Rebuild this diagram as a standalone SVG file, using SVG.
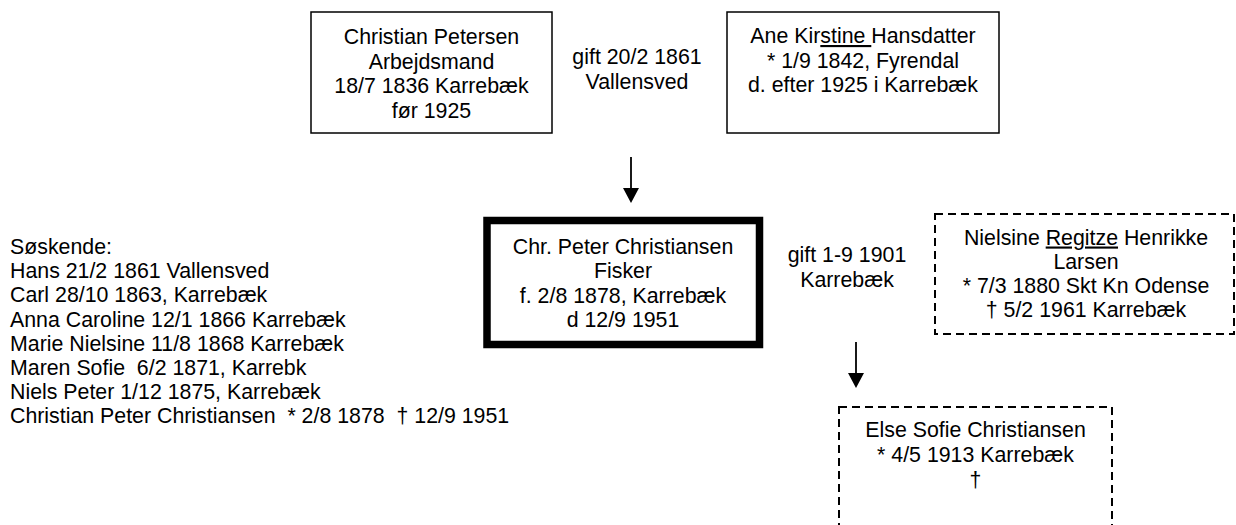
<svg xmlns="http://www.w3.org/2000/svg" width="1236" height="525" viewBox="0 0 1236 525">
<style>
text{font-family:"Liberation Sans",Arial,sans-serif;font-size:21.33px;fill:#000}
.c{text-anchor:middle}
.pre{white-space:pre}
.box{fill:#fff;stroke:#000;stroke-width:1.5}
.thick{fill:#fff;stroke:#000;stroke-width:7.5}
.dash{fill:#fff;stroke:#000;stroke-width:2;stroke-dasharray:8 5}
.ln{stroke:#000;stroke-width:1.8;fill:none}
.head{fill:#000}
</style>
<rect x="0" y="0" width="1236" height="525" fill="#fff"/>
<g id="father">
<rect class="box" x="311" y="12" width="241" height="121"/>
<text class="c" x="431.5" y="44">Christian Petersen</text>
<text class="c" x="431.5" y="68.5">Arbejdsmand</text>
<text class="c" x="431.5" y="93">18/7 1836 Karrebæk</text>
<text class="c" x="431.5" y="117.5">før 1925</text>
</g>
<g id="marriage1">
<text class="c" x="637" y="64">gift 20/2 1861</text>
<text class="c" x="637" y="88.5">Vallensved</text>
</g>
<g id="mother">
<rect class="box" x="727" y="12" width="272" height="121"/>
<text class="c" x="863" y="43">Ane Kir<tspan text-decoration="underline">stine </tspan>Hansdatter</text>
<text class="c" x="863" y="67.5">* 1/9 1842, Fyrendal</text>
<text class="c" x="863" y="92">d. efter 1925 i Karrebæk</text>
</g>
<g id="siblings">
<text x="10" y="254">Søskende:</text>
<text x="10" y="278.2">Hans 21/2 1861 Vallensved</text>
<text x="10" y="302.3">Carl 28/10 1863, Karrebæk</text>
<text x="10" y="326.5">Anna Caroline 12/1 1866 Karrebæk</text>
<text x="10" y="350.6">Marie Nielsine 11/8 1868 Karrebæk</text>
<text class="pre" xml:space="preserve" x="10" y="374.8">Maren Sofie  6/2 1871, Karrebk</text>
<text x="10" y="398.9">Niels Peter 1/12 1875, Karrebæk</text>
<text class="pre" xml:space="preserve" x="10" y="423">Christian Peter Christiansen  * 2/8 1878  † 12/9 1951</text>
</g>
<g id="subject">
<rect class="thick" x="487" y="220.5" width="272.5" height="124"/>
<text class="c" x="623" y="253.5">Chr. Peter Christiansen</text>
<text class="c" x="623" y="278">Fisker</text>
<text class="c" x="623" y="302.5">f. 2/8 1878, Karrebæk</text>
<text class="c" x="623" y="327">d 12/9 1951</text>
</g>
<g id="marriage2">
<text class="c" x="847" y="262">gift 1-9 1901</text>
<text class="c" x="847" y="286.5">Karrebæk</text>
</g>
<g id="spouse">
<rect class="dash" x="935" y="214" width="299" height="120"/>
<text class="c" x="1086" y="244.5">Nielsine <tspan text-decoration="underline">Regitze</tspan> Henrikke</text>
<text class="c" x="1086" y="268.5">Larsen</text>
<text class="c" x="1086" y="292.5">* 7/3 1880 Skt Kn Odense</text>
<text class="c" x="1086" y="316.5">† 5/2 1961 Karrebæk</text>
</g>
<g id="child">
<rect class="dash" x="839" y="407" width="273" height="140"/>
<text class="c" x="975.5" y="437">Else Sofie Christiansen</text>
<text class="c" x="975.5" y="461.5">* 4/5 1913 Karrebæk</text>
<text class="c" x="975.5" y="487">†</text>
</g>
<g id="connectors">
<line class="ln" x1="631" y1="157" x2="631" y2="190"/>
<path class="head" d="M623,188 L639,188 L631,203 Z"/>
<line class="ln" x1="856" y1="342" x2="856" y2="375"/>
<path class="head" d="M848,373 L864,373 L856,388 Z"/>
</g>
</svg>
